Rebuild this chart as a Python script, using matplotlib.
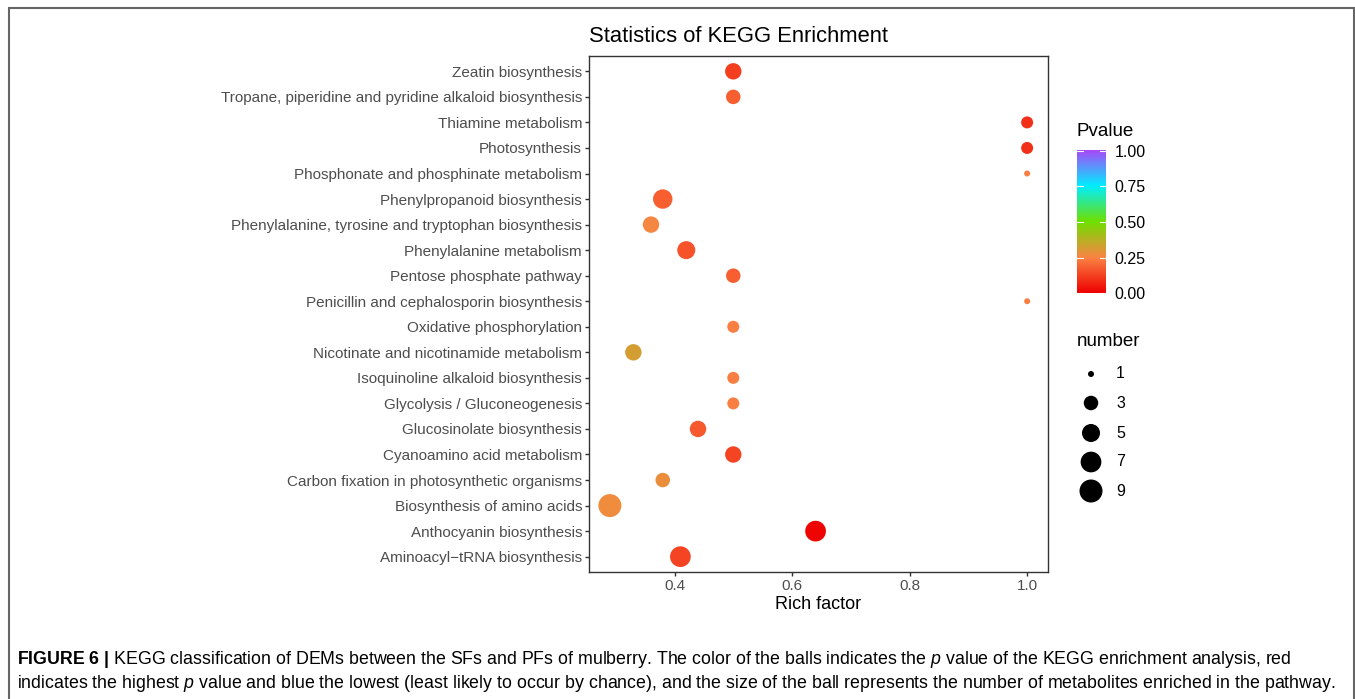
import numpy as np
import matplotlib
matplotlib.use('Agg')
import matplotlib.pyplot as plt
from matplotlib.colors import LinearSegmentedColormap
from matplotlib.patches import Rectangle

# datos de la figura (de arriba hacia abajo)
pathways = [
    'Zeatin biosynthesis',
    'Tropane, piperidine and pyridine alkaloid biosynthesis',
    'Thiamine metabolism',
    'Photosynthesis',
    'Phosphonate and phosphinate metabolism',
    'Phenylpropanoid biosynthesis',
    'Phenylalanine, tyrosine and tryptophan biosynthesis',
    'Phenylalanine metabolism',
    'Pentose phosphate pathway',
    'Penicillin and cephalosporin biosynthesis',
    'Oxidative phosphorylation',
    'Nicotinate and nicotinamide metabolism',
    'Isoquinoline alkaloid biosynthesis',
    'Glycolysis / Gluconeogenesis',
    'Glucosinolate biosynthesis',
    'Cyanoamino acid metabolism',
    'Carbon fixation in photosynthetic organisms',
    'Biosynthesis of amino acids',
    'Anthocyanin biosynthesis',
    'Aminoacyl\u2212tRNA biosynthesis',
]
rich_factor = [0.50, 0.50, 1.00, 1.00, 1.00, 0.38, 0.36, 0.42, 0.50, 1.00,
               0.50, 0.33, 0.50, 0.50, 0.44, 0.50, 0.38, 0.29, 0.64, 0.41]
number = [4, 3, 2, 2, 1, 6, 4, 5, 3, 1, 2, 4, 2, 2, 4, 4, 3, 9, 7, 7]
pvalue = [0.12, 0.18, 0.09, 0.09, 0.24, 0.18, 0.26, 0.16, 0.18, 0.24,
          0.24, 0.32, 0.24, 0.24, 0.17, 0.13, 0.28, 0.27, 0.01, 0.13]

size_breaks = [1, 3, 5, 7, 9]
color_breaks = [0.00, 0.25, 0.50, 0.75, 1.00]

cmap = LinearSegmentedColormap.from_list('pv', [
    (0.00, '#EE0000'), (0.25, '#FA8444'), (0.50, '#6FE000'),
    (0.75, '#00EEFF'), (1.00, '#A848F8')])

DPI = 100
px_per_pt = DPI / 72.0


def area(n):
    # escala de area tipo ggplot (rango 1-6)
    n = np.asarray(n, dtype=float)
    s = 1 + 5 * np.sqrt((n - 1) / 8.0)
    d = (2.6 + 3.4 * s) / px_per_pt
    return d ** 2


plt.rcParams['font.family'] = ['Liberation Sans', 'DejaVu Sans']
plt.rcParams['mathtext.fontset'] = 'custom'
plt.rcParams['mathtext.rm'] = 'Liberation Sans'
plt.rcParams['mathtext.it'] = 'Liberation Sans:italic'
plt.rcParams['mathtext.bf'] = 'Liberation Sans:bold'

fig = plt.figure(figsize=(13.55, 6.99), dpi=DPI)
W, H = 1355.0, 699.0

ax = fig.add_axes([589 / W, 1 - 572 / H, (1048 - 589) / W, (572 - 56) / H])
ypos = np.arange(len(pathways))[::-1]
ax.scatter(rich_factor, ypos, s=area(number), c=pvalue, cmap=cmap,
           vmin=0, vmax=1, linewidths=0, zorder=3)

xmin, xmax = min(rich_factor), max(rich_factor)
pad = 0.05 * (xmax - xmin)
ax.set_xlim(xmin - pad, xmax + pad)
ax.set_ylim(-0.6, len(pathways) - 0.4)
ax.set_yticks(ypos)
ax.set_yticklabels(pathways)
ax.set_xticks([0.4, 0.6, 0.8, 1.0])
ax.set_xticklabels(['0.4', '0.6', '0.8', '1.0'])
ax.tick_params(axis='both', length=3, width=1, color='#333333',
               labelcolor='#4D4D4D', labelsize=11, pad=2)
for sp in ax.spines.values():
    sp.set_color('#333333')
    sp.set_linewidth(1.0)
ax.set_xlabel('Rich factor', fontsize=13, labelpad=2)
ax.set_title('Statistics of KEGG Enrichment', fontsize=15.8, loc='left', pad=10)

# barra de color
cax = fig.add_axes([1077 / W, 1 - 296 / H, 29 / W, 148 / H])
grad = np.linspace(0, 1, 256).reshape(-1, 1)
cax.imshow(grad, aspect='auto', cmap=cmap, origin='lower', extent=[0, 1, 0, 1])
for b in color_breaks:
    cax.plot([0, 0.2], [b, b], color='white', lw=0.8)
    cax.plot([0.8, 1], [b, b], color='white', lw=0.8)
cax.set_xlim(0, 1)
cax.set_ylim(-0.02, 1.02)
cax.set_xticks([])
cax.yaxis.tick_right()
cax.set_yticks(color_breaks)
cax.set_yticklabels(['%.2f' % b for b in color_breaks])
cax.tick_params(axis='y', length=0, labelsize=11.5, pad=6)
for sp in cax.spines.values():
    sp.set_visible(False)
fig.text(1077 / W, 1 - 131 / H, 'Pvalue', fontsize=13.5, va='center', ha='left')

# leyenda de tamano
lax = fig.add_axes([1075 / W, 1 - 505 / H, 60 / W, 145 / H])
lax.set_xlim(0, 1)
lax.set_ylim(505, 360)
ly = [374, 403, 433, 462, 491]
lax.scatter([16 / 60.0] * len(size_breaks), ly, s=area(size_breaks), c='black',
            linewidths=0)
for yy, n in zip(ly, size_breaks):
    lax.text(41 / 60.0, yy, str(n), fontsize=11.5, va='center', ha='left')
lax.axis('off')
fig.text(1077 / W, 1 - 342 / H, 'number', fontsize=13.5, va='center', ha='left')

# marco exterior
fig.patches.append(Rectangle((9 / W, -0.05), (1354 - 9) / W, 1 - 8 / H + 0.05,
                             transform=fig.transFigure, fill=False,
                             edgecolor='#666666', lw=1.5))

# pie de figura
line1 = (r'$\mathbf{FIGURE\ 6\ |}$ KEGG classification of DEMs between the SFs and PFs of '
         r'mulberry. The color of the balls indicates the $\it{p}$ value of the KEGG '
         r'enrichment analysis, red')
line2 = (r'indicates the highest $\it{p}$ value and blue the lowest (least likely to occur '
         r'by chance), and the size of the ball represents the number of metabolites '
         r'enriched in the pathway.')
fig.text(17 / W, 1 - 660 / H, line1, fontsize=12.8, va='center')
fig.text(17 / W, 1 - 684 / H, line2, fontsize=12.8, va='center')

fig.savefig('out.png', dpi=DPI)
